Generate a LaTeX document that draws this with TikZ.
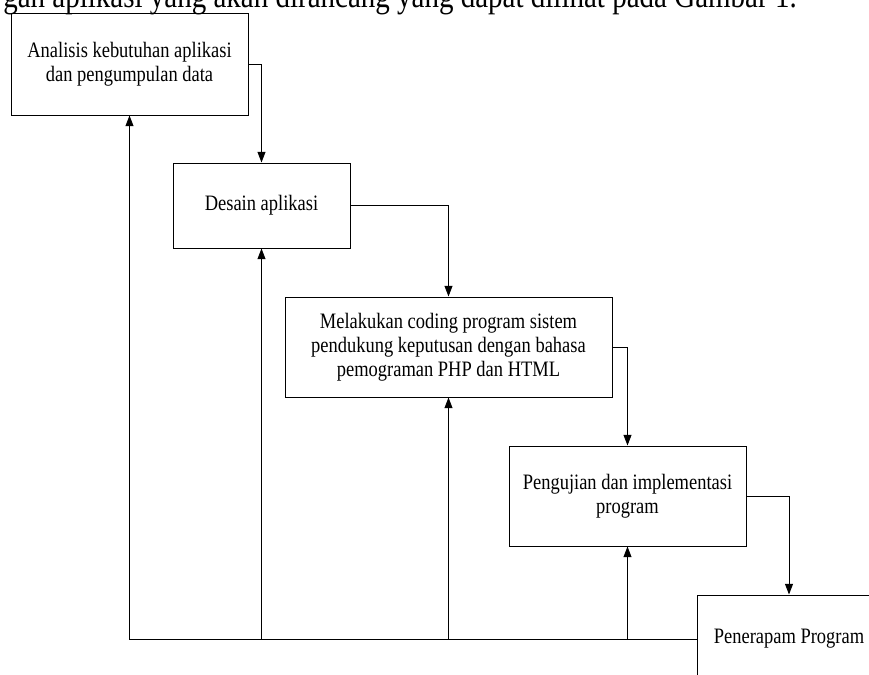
\documentclass[tikz,border=0pt]{standalone}
\usepackage{fontspec}
\setmainfont{Liberation Serif}
\newfontfamily\tallserif[FakeStretch=0.84]{Liberation Serif}
\usetikzlibrary{arrows.meta}
\tikzset{
  box/.style={draw, line width=0.75pt, align=center, inner sep=0pt, font=\tallserif\fontsize{16.5}{18}\selectfont},
  arr/.style={-{Triangle[length=8pt,width=6pt]}, line width=0.7pt}
}
\begin{document}
\begin{tikzpicture}[x=0.75pt,y=-0.75pt]
\useasboundingbox (0,0) rectangle (869,675);
\begin{scope}
\clip (0,0) rectangle (869,675);
\node[anchor=base west, inner sep=0pt, font=\tallserif\fontsize{25.9}{30}\selectfont] (lead) at (3,7)
  {gan aplikasi yang akan dirancang yang dapat dilihat pada Gambar 1.};
\node[box, minimum width=177.75pt, minimum height=76.5pt] (analisis) at (129.5,64)
  {Analisis kebutuhan aplikasi\\dan pengumpulan data};
\node[box, minimum width=132.75pt, minimum height=63.75pt] (desain) at (261.5,205.5)
  {Desain aplikasi};
\node[box, minimum width=245.25pt, minimum height=75pt] (coding) at (448.5,347)
  {Melakukan coding program sistem\\pendukung keputusan dengan bahasa\\pemograman PHP dan HTML};
\node[box, minimum width=177.75pt, minimum height=75pt] (uji) at (627.5,496)
  {Pengujian dan implementasi\\program};
\node[box, minimum width=138pt, minimum height=66pt] (terap) at (789,639)
  {Penerapam Program};
% alur ke bawah
\draw[arr] (analisis.east) -| (desain.north);
\draw[arr] (desain.east) -| (coding.north);
\draw[arr] (coding.east) -| (uji.north);
\draw[arr] (uji.east) -| (terap.north);
% umpan balik
\draw[arr] (terap.west) -- (analisis.south |- terap.west) -- (analisis.south);
\draw[arr] (desain.south |- terap.west) -- (desain.south);
\draw[arr] (coding.south |- terap.west) -- (coding.south);
\draw[arr] (uji.south |- terap.west) -- (uji.south);
\end{scope}
\end{tikzpicture}
\end{document}
